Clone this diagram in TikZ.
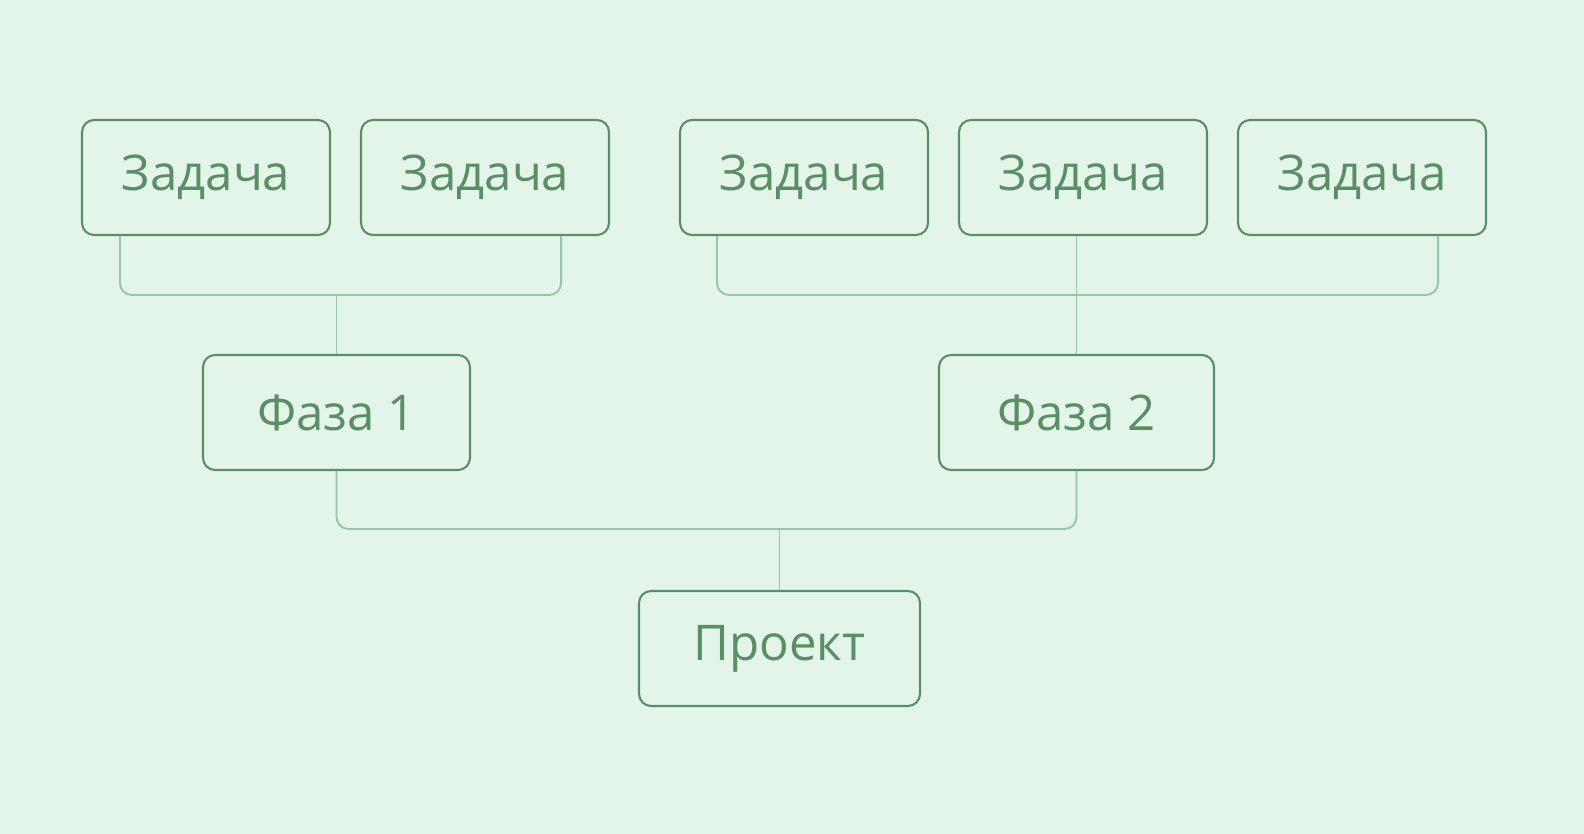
\documentclass[tikz,border=0pt]{standalone}
\usepackage{fontspec}
\setmainfont{Open Sans}
\usetikzlibrary{calc}
\definecolor{bg}{HTML}{E3F4E8}
\definecolor{boxgreen}{HTML}{5A8F65}
\definecolor{linkgreen}{HTML}{93C8A2}
\begin{document}
\begin{tikzpicture}
			[
				x=0.02cm, y=-0.02cm,
				box/.style={draw=boxgreen, line width=1.2pt, rounded corners=0.24cm,
					text=boxgreen, font=\fontsize{28}{33}\selectfont,
					minimum width=4.96cm, minimum height=2.3cm, inner sep=0pt},
				link/.style={draw=linkgreen, line width=1.1pt, rounded corners=0.24cm}
			]

			% background
			\fill[bg] (0,0) rectangle (1584,834);
			\useasboundingbox (0,0) rectangle (1584,834);

			% tasks
			\node[box] (t1) at ( 206, 177.5 ) {Задача};
			\node[box] (t2) at ( 485, 177.5 ) {Задача};
			\node[box] (t3) at ( 804, 177.5 ) {Задача};
			\node[box] (t4) at (1083, 177.5 ) {Задача};
			\node[box] (t5) at (1362, 177.5 ) {Задача};

			% phases
			\node[box, minimum width=5.34cm] (p1) at ( 336.5, 412.5 ) {Фаза 1};
			\node[box, minimum width=5.5cm] (p2) at (1076.5, 412.5 ) {Фаза 2};

			% project
			\node[box, minimum width=5.62cm] (pr) at ( 779.5, 648.5 ) {Проект};

			% junctions
			\coordinate (j1) at ( 336.5, 295 );
			\coordinate (j2) at (1076.5, 295 );
			\coordinate (j3) at ( 779.5, 529 );

			% connectors
			\draw[link] ($(t1.south west)+(39,0)$) |- (j1) -| ($(t2.south east)+(-49,0)$);
			\draw[link] ($(t3.south west)+(38,0)$) |- (j2) -| ($(t5.south east)+(-49,0)$);
			\draw[link] (p1.south) |- (j3) -| (p2.south);

			\draw[link] (j1) -- (p1.north);
			\draw[link] (t4.south -| p2.north) -- (p2.north);
			\draw[link] (j3) -- (pr.north);

		\end{tikzpicture}
\end{document}
